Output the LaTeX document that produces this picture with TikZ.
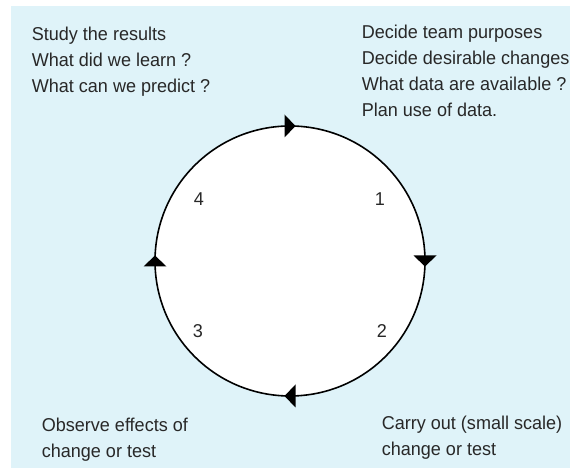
\documentclass[tikz,border=0pt]{standalone}
\usepackage{fontspec}
\setmainfont{Liberation Sans}[FakeStretch=0.97]
\usetikzlibrary{decorations.markings}
\definecolor{paleblue}{RGB}{223,243,249}
\definecolor{inkgrey}{RGB}{40,40,40}

\begin{document}
\begin{tikzpicture}[x=1pt,y=1pt,line width=1.6pt,
    stagetext/.style={anchor=north west,inner sep=0pt,align=left,text=inkgrey,
      font=\fontsize{18.6}{26}\selectfont},
    stagenum/.style={inner sep=0pt,text=inkgrey,font=\fontsize{18.6}{26}\selectfont},
    headtri/.style={fill=black,line width=0pt},
    flowmarks/.style={postaction={decorate,decoration={markings,
      mark=at position 0.125 with {\fill[headtri] (5.5pt,0pt)--(-5.5pt,11.5pt)--(-5.5pt,-11.5pt)--cycle;},
      mark=at position 0.375 with {\fill[headtri] (5.5pt,0pt)--(-5.5pt,11.5pt)--(-5.5pt,-11.5pt)--cycle;},
      mark=at position 0.625 with {\fill[headtri] (5.5pt,0pt)--(-5.5pt,11.5pt)--(-5.5pt,-11.5pt)--cycle;},
      mark=at position 0.875 with {\fill[headtri] (5.5pt,0pt)--(-5.5pt,11.5pt)--(-5.5pt,-11.5pt)--cycle;}}}}]
  \useasboundingbox (0,0) rectangle (570,470);
  \fill[paleblue] (11,2) rectangle (570,464);
  \coordinate (centre) at (290,209);
  \draw[fill=white,flowmarks] (centre) ++(45:135pt) arc[start angle=45,delta angle=-360,radius=135pt];
  \node[stagenum] (one) at (380,270.6) {1};
  \node[stagenum] (two) at (382,138.6) {2};
  \node[stagenum] (three) at (198,138.6) {3};
  \node[stagenum] (four) at (199,270.6) {4};
  \node[stagetext] (study) at (31,444) {Study the results\\What did we learn ?\\What can we predict ?};
  \node[stagetext] (plan) at (361,445.3) {Decide team purposes\\Decide desirable changes\\What data are available ?\\Plan use of data.};
  \node[stagetext] (observe) at (41,53) {Observe effects of\\change or test};
  \node[stagetext] (carry) at (381,55) {Carry out (small scale)\\change or test};
\end{tikzpicture}
\end{document}
